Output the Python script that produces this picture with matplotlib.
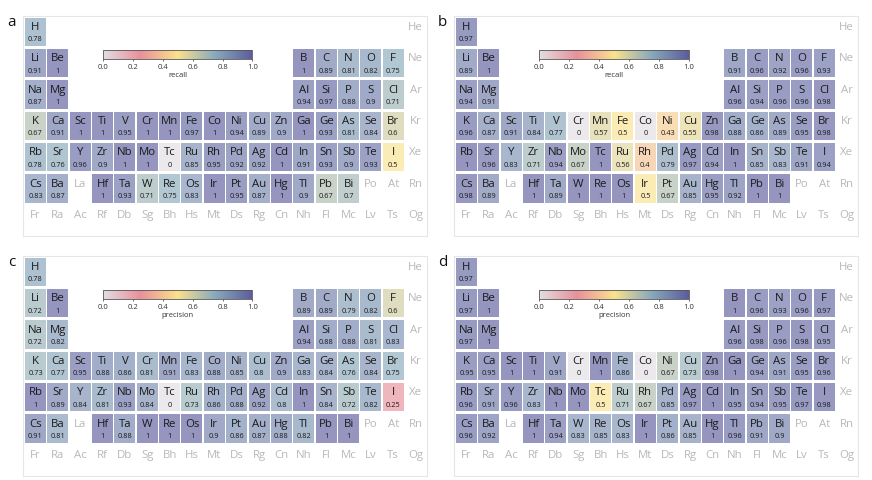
import matplotlib
matplotlib.use("Agg")
import matplotlib.pyplot as plt
import numpy as np
from matplotlib import patches
from matplotlib.colors import LinearSegmentedColormap, Normalize
from matplotlib.cm import ScalarMappable

plt.rcParams["font.family"] = ["Open Sans", "DejaVu Sans"]

# periodic table layout, one list per period (18 groups)
layout = [
    ["H"] + [""] * 16 + ["He"],
    ["Li", "Be"] + [""] * 10 + ["B", "C", "N", "O", "F", "Ne"],
    ["Na", "Mg"] + [""] * 10 + ["Al", "Si", "P", "S", "Cl", "Ar"],
    ["K", "Ca", "Sc", "Ti", "V", "Cr", "Mn", "Fe", "Co", "Ni", "Cu", "Zn",
     "Ga", "Ge", "As", "Se", "Br", "Kr"],
    ["Rb", "Sr", "Y", "Zr", "Nb", "Mo", "Tc", "Ru", "Rh", "Pd", "Ag", "Cd",
     "In", "Sn", "Sb", "Te", "I", "Xe"],
    ["Cs", "Ba", "La", "Hf", "Ta", "W", "Re", "Os", "Ir", "Pt", "Au", "Hg",
     "Tl", "Pb", "Bi", "Po", "At", "Rn"],
    ["Fr", "Ra", "Ac", "Rf", "Db", "Sg", "Bh", "Hs", "Mt", "Ds", "Rg", "Cn",
     "Nh", "Fl", "Mc", "Lv", "Ts", "Og"],
]

# elements that carry a score
elements = [
    "H",
    "Li", "Be", "B", "C", "N", "O", "F",
    "Na", "Mg", "Al", "Si", "P", "S", "Cl",
    "K", "Ca", "Sc", "Ti", "V", "Cr", "Mn", "Fe", "Co", "Ni", "Cu", "Zn",
    "Ga", "Ge", "As", "Se", "Br",
    "Rb", "Sr", "Y", "Zr", "Nb", "Mo", "Tc", "Ru", "Rh", "Pd", "Ag", "Cd",
    "In", "Sn", "Sb", "Te", "I",
    "Cs", "Ba", "Hf", "Ta", "W", "Re", "Os", "Ir", "Pt", "Au", "Hg",
    "Tl", "Pb", "Bi",
]

recall_a = [
    0.78,
    0.91, 1, 1, 0.89, 0.81, 0.82, 0.75,
    0.87, 1, 0.94, 0.97, 0.88, 0.9, 0.71,
    0.67, 0.91, 1, 1, 0.95, 1, 1, 0.97, 1, 0.94, 0.89, 0.9, 1, 0.93, 0.81, 0.84, 0.6,
    0.78, 0.76, 0.96, 0.9, 1, 1, 0, 0.85, 0.95, 0.92, 0.92, 1, 0.91, 0.93, 0.9, 0.93, 0.5,
    0.83, 0.87, 1, 0.93, 0.71, 0.75, 0.83, 1, 0.95, 0.87, 1, 0.9, 0.67, 0.7,
]

recall_b = [
    0.97,
    0.89, 1, 0.91, 0.96, 0.92, 0.96, 0.93,
    0.94, 0.91, 0.96, 0.94, 0.96, 0.96, 0.98,
    0.96, 0.87, 0.91, 0.84, 0.77, 0, 0.57, 0.5, 0, 0.43, 0.55, 0.98, 0.88, 0.86, 0.89, 0.95, 0.98,
    1, 0.96, 0.83, 0.71, 0.94, 0.67, 1, 0.56, 0.4, 0.79, 0.97, 0.94, 1, 0.85, 0.83, 0.91, 0.94,
    0.98, 0.89, 1, 0.89, 1, 1, 1, 0.5, 0.67, 0.85, 0.95, 0.92, 1, 1,
]

precision_c = [
    0.78,
    0.72, 1, 0.89, 0.89, 0.79, 0.82, 0.6,
    0.72, 0.82, 0.94, 0.88, 0.88, 0.81, 0.83,
    0.73, 0.77, 0.95, 0.88, 0.86, 0.81, 0.91, 0.83, 0.88, 0.85, 0.8, 0.9, 0.83, 0.84, 0.76, 0.84, 0.75,
    1, 0.89, 0.84, 0.81, 0.93, 0.84, 0, 0.73, 0.86, 0.88, 0.92, 0.8, 1, 0.84, 0.72, 0.82, 0.25,
    0.91, 0.81, 1, 0.88, 1, 1, 1, 0.9, 0.86, 0.87, 0.88, 0.82, 1, 1,
]

precision_d = [
    0.97,
    0.97, 1, 1, 0.96, 0.93, 0.96, 0.97,
    0.97, 1, 0.96, 0.98, 0.96, 0.98, 0.95,
    0.95, 0.95, 1, 1, 0.91, 0, 1, 0.86, 0, 0.67, 0.73, 0.98, 1, 0.94, 0.91, 0.95, 0.96,
    0.96, 0.91, 0.96, 0.83, 1, 1, 0.5, 0.71, 0.67, 0.85, 0.97, 1, 0.95, 0.94, 0.95, 0.97, 0.98,
    0.96, 0.92, 1, 0.94, 0.83, 0.85, 0.83, 1, 0.86, 0.85, 1, 0.96, 0.91, 0.9,
]

panels = [
    ("a", recall_a, "recall"),
    ("b", recall_b, "recall"),
    ("c", precision_c, "precision"),
    ("d", precision_d, "precision"),
]

cmap = LinearSegmentedColormap.from_list(
    "score",
    [(0.0, "#e1dee1"), (0.25, "#e8909a"), (0.5, "#fbe18c"),
     (0.75, "#88aabb"), (1.0, "#5c5c9e")],
)
norm = Normalize(0, 1)

W, H = 872, 481
fig = plt.figure(figsize=(W / 100, H / 100), dpi=100)

offsets = [(0, 0), (431, 0), (0, 240), (431, 240)]
cbar_left = [0.199, 0.212, 0.199, 0.212]


def draw_table(ax, values, label):
    score = dict(zip(elements, values))
    for p, row in enumerate(layout, start=1):
        for g, sym in enumerate(row, start=1):
            if not sym:
                continue
            if sym in score:
                v = score[sym]
                ax.add_patch(patches.Rectangle(
                    (g - 0.47, p - 0.45), 0.94, 0.9,
                    facecolor=cmap(norm(v)), alpha=0.65, edgecolor="none"))
                ax.text(g, p - 0.17, sym, ha="center", va="center",
                        fontsize=8.2, color="#1a1a1a")
                ax.text(g, p + 0.22, f"{v:g}", ha="center", va="center",
                        fontsize=5.3, color="#1a1a1a")
            else:
                ax.text(g, p - 0.17, sym, ha="center", va="center",
                        fontsize=8.2, color="#b8b8b8")
    ax.set_xlim(0.43, 18.51)
    ax.set_ylim(7.52, 0.48)
    ax.set_xticks([])
    ax.set_yticks([])
    for s in ax.spines.values():
        s.set_color("#e6e6e6")
        s.set_linewidth(0.8)


for i, (letter, values, label) in enumerate(panels):
    dx, dy = offsets[i]
    left, top, w, h = 22.7 + dx, 16.7 + dy, 404.3, 220.3
    ax = fig.add_axes([left / W, 1 - (top + h) / H, w / W, h / H])
    draw_table(ax, values, label)

    cax = ax.inset_axes([cbar_left[i], 0.803, 0.369, 0.041])
    cb = fig.colorbar(ScalarMappable(norm=norm, cmap=cmap), cax=cax,
                      orientation="horizontal", ticks=np.arange(0, 1.01, 0.2))
    cb.outline.set_edgecolor("#555555")
    cb.outline.set_linewidth(0.6)
    cax.tick_params(labelsize=5.5, length=1.5, width=0.5, pad=1,
                    colors="#333333")
    cax.set_xticklabels([f"{t:.1f}" for t in np.arange(0, 1.01, 0.2)])
    cb.set_label(label, fontsize=5.5, labelpad=1, color="#333333")

    fig.text((11.7 + dx) / W, 1 - (22.5 + dy) / H, letter,
             ha="center", va="center", fontsize=11, color="#111111")

fig.savefig("out.png", dpi=100)
